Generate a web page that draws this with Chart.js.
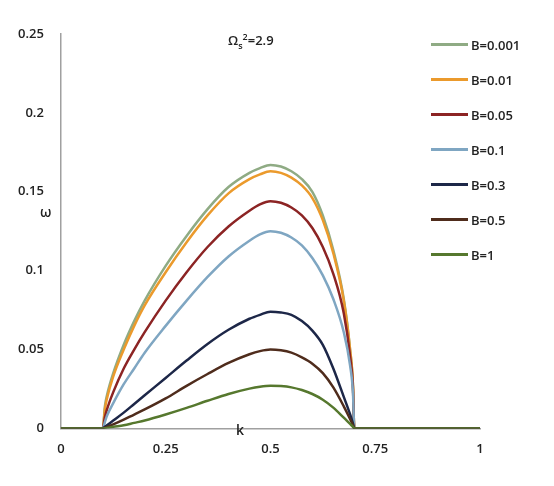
<!DOCTYPE html>
<html>
<head>
<meta charset="utf-8">
<script src="https://cdn.jsdelivr.net/npm/chart.js@4"></script>
<style>
    html, body { margin: 0; padding: 0; background: #fff; }
    #wrap { position: relative; width: 554px; height: 486px; font-family: "Open Sans", sans-serif; color: #222; }
    #wrap canvas { position: absolute; left: 0; top: 0; }
    .note { position: absolute; font-weight: 600; white-space: nowrap; }
    #title { left: 228px; top: 30px; font-size: 13px; }
    #title sub, #title sup { font-size: 9px; }
    #yname { left: 40px; top: 202px; font-size: 14px; }
    #xname { left: 236px; top: 420px; font-size: 14px; }
    #legend { position: absolute; left: 431px; top: 27px; }
    .item { display: flex; align-items: center; height: 35px; font-size: 13px; font-weight: 600; }
    .swatch { width: 37px; height: 3px; margin-right: 3px; }
</style>
</head>
<body>
<div id="wrap">
    <canvas id="growthChart" width="554" height="486"></canvas>
    <div class="note" id="title">Ω<sub>s</sub><sup>2</sup>=2.9</div>
    <div class="note" id="yname">ω</div>
    <div class="note" id="xname">k</div>
    <div id="legend"></div>
</div>
<script>
// wavenumber samples (denser near the ends of the unstable band)
const kValues = [0, 0.05, 0.1, 0.105, 0.11, 0.125, 0.15, 0.175, 0.2, 0.25, 0.3, 0.35, 0.4, 0.45, 0.475, 0.5, 0.525, 0.55, 0.575, 0.6, 0.625, 0.65, 0.675, 0.69, 0.697, 0.7, 0.75, 0.8, 0.85, 0.9, 0.95, 1];

// growth rate for each B
const omegaB0001 = [0, 0, 0, 0.014, 0.021, 0.035, 0.053, 0.068, 0.081, 0.103, 0.122, 0.139, 0.153, 0.162, 0.165, 0.167, 0.166, 0.163, 0.158, 0.150, 0.135, 0.113, 0.082, 0.050, 0.027, 0, 0, 0, 0, 0, 0, 0];
const omegaB001  = [0, 0, 0, 0.012, 0.019, 0.033, 0.050, 0.065, 0.078, 0.099, 0.118, 0.135, 0.149, 0.158, 0.161, 0.163, 0.162, 0.159, 0.154, 0.146, 0.132, 0.111, 0.081, 0.050, 0.027, 0, 0, 0, 0, 0, 0, 0];
const omegaB005  = [0, 0, 0, 0.007, 0.012, 0.023, 0.038, 0.050, 0.061, 0.081, 0.099, 0.115, 0.128, 0.138, 0.142, 0.144, 0.143, 0.140, 0.135, 0.127, 0.115, 0.098, 0.073, 0.046, 0.025, 0, 0, 0, 0, 0, 0, 0];
const omegaB01   = [0, 0, 0, 0.004, 0.008, 0.016, 0.028, 0.038, 0.048, 0.065, 0.081, 0.096, 0.109, 0.119, 0.123, 0.125, 0.124, 0.121, 0.116, 0.108, 0.097, 0.082, 0.061, 0.040, 0.022, 0, 0, 0, 0, 0, 0, 0];
const omegaB03   = [0, 0, 0, 0.001, 0.002, 0.005, 0.010, 0.0155, 0.021, 0.032, 0.043, 0.0535, 0.0625, 0.0695, 0.072, 0.074, 0.0735, 0.072, 0.068, 0.062, 0.053, 0.038, 0.020, 0.009, 0.003, 0, 0, 0, 0, 0, 0, 0];
const omegaB05   = [0, 0, 0, 0.0004, 0.001, 0.0025, 0.0055, 0.0088, 0.012, 0.019, 0.027, 0.0345, 0.0415, 0.047, 0.049, 0.050, 0.0495, 0.048, 0.045, 0.041, 0.035, 0.026, 0.014, 0.006, 0.002, 0, 0, 0, 0, 0, 0, 0];
const omegaB1    = [0, 0, 0, 0.0001, 0.0003, 0.001, 0.002, 0.0035, 0.005, 0.0088, 0.013, 0.0175, 0.0218, 0.0252, 0.0264, 0.027, 0.0268, 0.026, 0.0243, 0.0218, 0.0182, 0.0132, 0.0068, 0.0028, 0.001, 0, 0, 0, 0, 0, 0, 0];

const seriesNames = ["B=0.001", "B=0.01", "B=0.05", "B=0.1", "B=0.3", "B=0.5", "B=1"];
const seriesData = [omegaB0001, omegaB001, omegaB005, omegaB01, omegaB03, omegaB05, omegaB1];
const seriesColors = ["#8fab84", "#eb9a2c", "#8c2424", "#7fa6c2", "#1d2748", "#4f2c1c", "#56782e"];

const xTicks = [0, 0.25, 0.5, 0.75, 1];
const xTickLabels = ["0", "0.25", "0.5", "0.75", "1"];
const yTicks = [0, 0.05, 0.1, 0.15, 0.2, 0.25];
const yTickLabels = ["0", "0.05", "0.1", "0.15", "0.2", "0.25"];

const tickFont = { family: "Open Sans", size: 13, weight: "600" };

// later series sit on top, like the original
const datasets = seriesNames.map((name, i) => ({
    label: name,
    data: kValues.map((k, j) => ({ x: k, y: seriesData[i][j] })),
    borderColor: seriesColors[i],
    backgroundColor: seriesColors[i],
    borderWidth: 2.5,
    pointRadius: 0,
    fill: false,
    cubicInterpolationMode: "monotone",
    order: seriesNames.length - i
}));

new Chart(document.getElementById("growthChart").getContext("2d"), {
    type: "line",
    data: { datasets: datasets },
    options: {
        responsive: false,
        animation: false,
        layout: { padding: { left: 1, right: 74, top: 34, bottom: 16 } },
        plugins: {
            legend: { display: false },
            tooltip: { enabled: false }
        },
        scales: {
            x: {
                type: "linear",
                min: 0,
                max: 1,
                afterBuildTicks: axis => { axis.ticks = xTicks.map(v => ({ value: v })); },
                ticks: {
                    color: "#222",
                    font: tickFont,
                    padding: 13,
                    maxRotation: 0,
                    callback: (v, i) => xTickLabels[i]
                },
                grid: { display: false, drawTicks: false },
                border: { color: "#a0a0a0", width: 1.5 }
            },
            y: {
                min: 0,
                max: 0.25,
                afterBuildTicks: axis => { axis.ticks = yTicks.map(v => ({ value: v })); },
                ticks: {
                    color: "#222",
                    font: tickFont,
                    padding: 17,
                    callback: (v, i) => yTickLabels[i]
                },
                grid: { display: false, drawTicks: false },
                border: { color: "#a0a0a0", width: 1.5 }
            }
        }
    }
});

// legend on the right, inside the plot
document.getElementById("legend").innerHTML = seriesNames.map((name, i) =>
    `<div class="item"><span class="swatch" style="background:${seriesColors[i]}"></span>${name}</div>`
).join("");
</script>
</body>
</html>
